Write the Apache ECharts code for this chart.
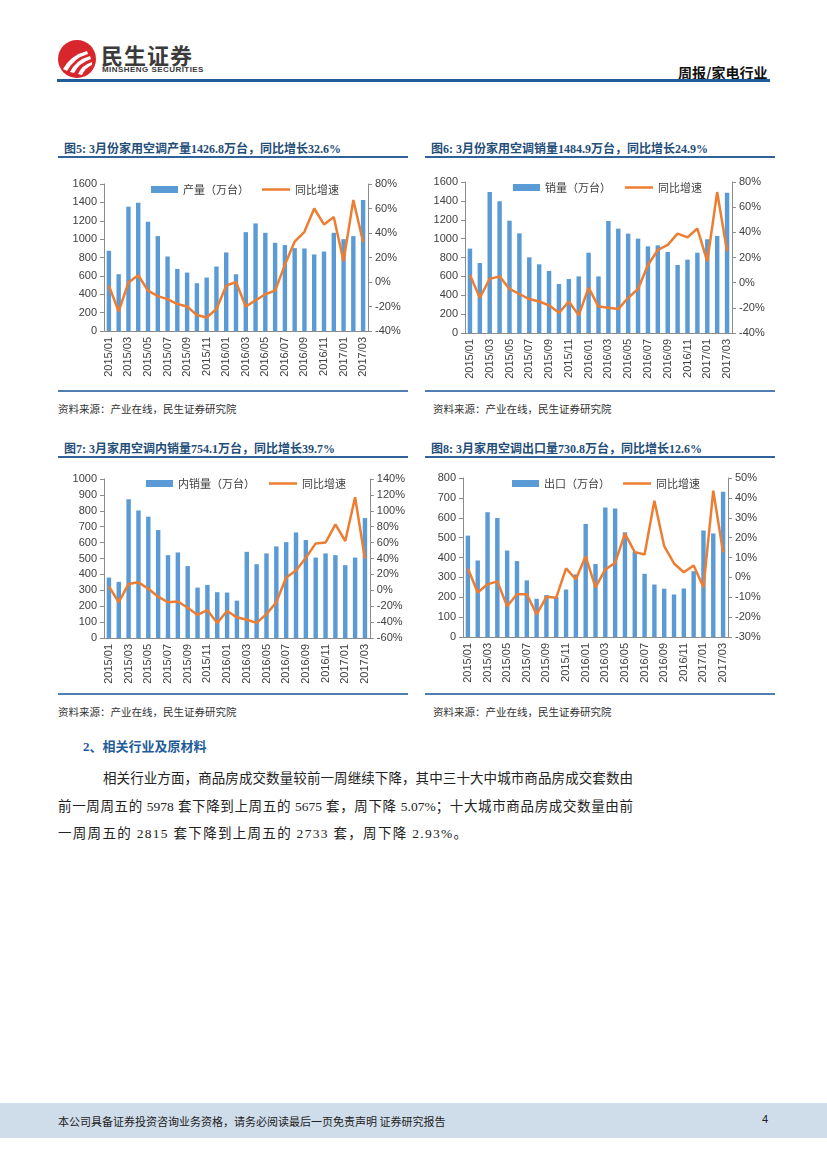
<!DOCTYPE html>
<html>
<head>
<meta charset="utf-8">
<script src="https://cdn.jsdelivr.net/npm/echarts@6/dist/echarts.min.js"></script>
<style>
  html,body{margin:0;padding:0;background:#fff;}
  body{width:827px;height:1169px;position:relative;overflow:hidden;font-family:"Liberation Serif","Noto Sans CJK SC",serif;}
  .abs{position:absolute;}
  .title{position:absolute;font-weight:bold;font-size:12px;color:#1f4e79;white-space:nowrap;font-family:"Liberation Serif","Noto Sans CJK SC",serif;}
  .uline{position:absolute;height:2px;background:#2f6399;}
  .bline{position:absolute;height:2px;background:#4f7fb0;}
  .src{position:absolute;font-size:10.5px;color:#333;white-space:nowrap;font-family:"Noto Sans CJK SC",sans-serif;}
  .chart{position:absolute;width:350px;height:225px;}
  .para{position:absolute;font-size:13.5px;color:#222;white-space:nowrap;font-family:"Liberation Serif","Noto Sans CJK SC",serif;}
  .just{text-align:justify;text-align-last:justify;white-space:normal;}
</style>
</head>
<body>
<!-- header -->
<svg class="abs" style="left:57px;top:39px" width="40" height="40" viewBox="0 0 40 40">
  <circle cx="20" cy="20" r="19" fill="#d7262c"/>
  <path d="M6 30 Q14 16 30 12 L31 15 Q17 19 10 32 Z" fill="#fff"/>
  <path d="M13 33 Q19 21 33 17 L34 20 Q22 24 17 34 Z" fill="#fff"/>
  <path d="M21 35 Q25 26 35 23 L35 26 Q28 29 25 36 Z" fill="#fff"/>
</svg>
<div class="abs" style="left:101px;top:38px;font-size:22px;font-weight:bold;color:#3a3a3a;font-family:'Noto Sans CJK SC',sans-serif;letter-spacing:1px;">民生证券</div>
<div class="abs" style="left:102px;top:65px;font-size:8px;font-weight:bold;color:#3a3a3a;font-family:'Liberation Sans',sans-serif;letter-spacing:0.45px;">MINSHENG SECURITIES</div>
<div class="abs" style="left:678px;top:62px;font-size:14px;font-weight:bold;color:#111;font-family:'Noto Sans CJK SC',sans-serif;">周报/家电行业</div>
<div class="abs" style="left:57px;top:79px;width:713px;height:3px;background:#1f5c99;"></div>

<!-- row 1 -->
<div class="title" style="left:64px;top:139px;">图5: 3月份家用空调产量1426.8万台，同比增长32.6%</div>
<div class="uline" style="left:58px;top:156px;width:350px;"></div>
<div class="title" style="left:431px;top:139px;">图6: 3月份家用空调销量1484.9万台，同比增长24.9%</div>
<div class="uline" style="left:425px;top:156px;width:350px;"></div>
<div id="c1" class="chart" style="left:58px;top:165px;"></div>
<div id="c2" class="chart" style="left:425px;top:165px;"></div>
<div class="bline" style="left:58px;top:390px;width:350px;"></div>
<div class="bline" style="left:425px;top:390px;width:350px;"></div>
<div class="src" style="left:58px;top:401px;">资料来源：产业在线，民生证券研究院</div>
<div class="src" style="left:433px;top:401px;">资料来源：产业在线，民生证券研究院</div>

<!-- row 2 -->
<div class="title" style="left:64px;top:439px;">图7: 3月家用空调内销量754.1万台，同比增长39.7%</div>
<div class="uline" style="left:58px;top:456px;width:350px;"></div>
<div class="title" style="left:431px;top:439px;">图8: 3月家用空调出口量730.8万台，同比增长12.6%</div>
<div class="uline" style="left:425px;top:456px;width:350px;"></div>
<div id="c3" class="chart" style="left:58px;top:465px;"></div>
<div id="c4" class="chart" style="left:425px;top:465px;"></div>
<div class="bline" style="left:58px;top:693px;width:350px;"></div>
<div class="bline" style="left:425px;top:693px;width:350px;"></div>
<div class="src" style="left:58px;top:704px;">资料来源：产业在线，民生证券研究院</div>
<div class="src" style="left:433px;top:704px;">资料来源：产业在线，民生证券研究院</div>

<!-- section -->
<div class="abs" style="left:83px;top:736px;font-size:13px;font-weight:bold;color:#1f5c99;font-family:'Liberation Serif','Noto Sans CJK SC',serif;">2、相关行业及原材料</div>
<div class="para just" style="left:103px;top:767px;width:530px;">相关行业方面，商品房成交数量较前一周继续下降，其中三十大中城市商品房成交套数由</div>
<div class="para just" style="left:58px;top:795px;width:575px;">前一周周五的 5978 套下降到上周五的 5675 套，周下降 5.07%；十大城市商品房成交数量由前</div>
<div class="para" style="left:58px;top:822px;letter-spacing:1.3px;">一周周五的 2815 套下降到上周五的 2733 套，周下降 2.93%。</div>

<!-- footer -->
<div class="abs" style="left:0;top:1103px;width:827px;height:35px;background:#cfdcea;"></div>
<div class="abs" style="left:58px;top:1113px;font-size:11px;color:#222;font-family:'Noto Sans CJK SC',sans-serif;">本公司具备证券投资咨询业务资格，请务必阅读最后一页免责声明 证券研究报告</div>
<div class="abs" style="left:762px;top:1113px;font-size:11px;color:#222;font-family:'Liberation Sans',sans-serif;">4</div>

<script>
var categories = ["2015/01","2015/02","2015/03","2015/04","2015/05","2015/06","2015/07","2015/08","2015/09","2015/10","2015/11","2015/12",
  "2016/01","2016/02","2016/03","2016/04","2016/05","2016/06","2016/07","2016/08","2016/09","2016/10","2016/11","2016/12",
  "2017/01","2017/02","2017/03"];

var prodBars = [873,618,1353,1396,1189,1033,811,676,636,520,582,702,855,618,1076,1171,1069,960,935,902,898,833,865,1069,1000,1033,1426.8];
var prodYoY  = [-3,-24,-0.5,5.5,-7,-11.5,-14,-18,-20,-27,-29,-22,-3,0,-20,-15,-10,-7,14,33,41,60,47,53,17,67,32.6];

var salesBars = [894,742,1494,1395,1190,1056,802,728,657,519,572,600,851,600,1187,1106,1053,1000,918,929,858,721,777,851,993,1028,1484.9];
var salesYoY  = [6,-12,3,5,-5,-9,-13,-15,-18,-24,-15,-26,-4,-19,-20,-21,-12,-5,14,26,30,39,36,43,17,72,24.9];

var domBars = [380,353,872,802,763,679,521,538,452,317,334,288,286,235,542,464,532,576,603,664,616,506,532,521,458,506,754.1];
var domYoY  = [5,-15,8,10,2,-8,-15,-14,-22,-31,-25,-41,-26,-34,-37,-41,-30,-15,16,25,41,59,60,83,62,117,39.7];

var expBars = [510,385,628,599,435,382,285,192,211,201,239,315,569,367,651,646,527,428,318,264,243,214,244,331,536,521,730.8];
var expYoY  = [4.5,-7.6,-3.5,-2,-14.5,-8.5,-8.5,-18.6,-9.8,-10.2,4.5,-1,10.6,-5,4,7.3,22,12.7,11.5,38.6,15.7,7,2.6,6,-5,43.6,12.6];

var barNames = ["产量（万台）","销量（万台）","内销量（万台）","出口（万台）"];
var lineName = "同比增速";

var AX = '#8c8c8c', LB = '#404040';
var numFont = "'Liberation Sans', Arial, sans-serif";
var legendText = {fontSize:11, color:LB, fontFamily:"'Noto Sans CJK SC',sans-serif"};

function makeChart(id, cfg){
  var ch = echarts.init(document.getElementById(id), null, {renderer:'canvas'});
  ch.setOption({
    animation:false,
    grid:{left:cfg.grid[0], top:cfg.grid[1], width:cfg.grid[2], height:cfg.grid[3], containLabel:false},
    legend:[
      {left:cfg.legendLeft, top:cfg.legendTop, itemWidth:27, itemHeight:7, textStyle:legendText,
       data:[{name:cfg.barName, icon:'rect'}]},
      {left:cfg.lineLeft, top:cfg.legendTop, itemWidth:28, itemHeight:2.5, textStyle:legendText,
       data:[{name:lineName, icon:'rect', itemStyle:{color:'#ed7d31'}}]}
    ],
    xAxis:{
      type:'category', data:categories, boundaryGap:true,
      axisLine:{lineStyle:{color:AX,width:1}},
      axisTick:{interval:1, length:4, lineStyle:{color:AX}},
      axisLabel:{interval:1, rotate:90, fontSize:11, color:LB, margin:6, fontFamily:numFont}
    },
    yAxis:[
      {type:'value', min:cfg.l[0], max:cfg.l[1], interval:cfg.l[2],
       axisLine:{show:true,lineStyle:{color:AX}}, axisTick:{show:true,length:4,lineStyle:{color:AX}},
       splitLine:{show:false},
       axisLabel:{fontSize:11,color:LB,margin:7,fontFamily:numFont,formatter:function(v){return String(v);}}},
      {type:'value', min:cfg.r[0], max:cfg.r[1], interval:cfg.r[2], position:'right',
       axisLine:{show:true,lineStyle:{color:AX}}, axisTick:{show:true,length:4,lineStyle:{color:AX}},
       splitLine:{show:false},
       axisLabel:{fontSize:11,color:LB,margin:7,fontFamily:numFont,formatter:'{value}%'}}
    ],
    series:[
      {name:cfg.barName, type:'bar', data:cfg.bars, barWidth:'45%', itemStyle:{color:'#5b9bd5'}, yAxisIndex:0},
      {name:lineName, type:'line', data:cfg.yoy, yAxisIndex:1, symbol:'none', smooth:false,
       lineStyle:{color:'#ed7d31', width:2.5}, itemStyle:{color:'#ed7d31'}, z:5}
    ]
  });
}

makeChart('c1',{grid:[46,19,264,147], legendLeft:88, lineLeft:199, legendTop:14, barName:barNames[0], bars:prodBars, yoy:prodYoY, l:[0,1600,200], r:[-40,80,20]});
makeChart('c2',{grid:[40,17,267,151], legendLeft:83, lineLeft:195, legendTop:12, barName:barNames[1], bars:salesBars, yoy:salesYoY, l:[0,1600,200], r:[-40,80,20]});
makeChart('c3',{grid:[46,14,267,159], legendLeft:83, lineLeft:206, legendTop:8, barName:barNames[2], bars:domBars, yoy:domYoY, l:[0,1000,100], r:[-60,140,20]});
makeChart('c4',{grid:[38,13,265,159], legendLeft:82, lineLeft:193, legendTop:8, barName:barNames[3], bars:expBars, yoy:expYoY, l:[0,800,100], r:[-30,50,10]});
</script>
</body>
</html>
